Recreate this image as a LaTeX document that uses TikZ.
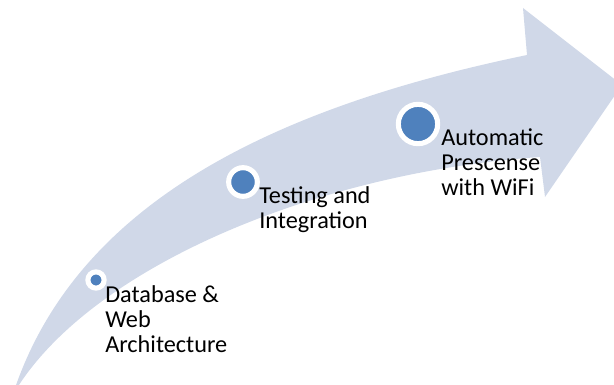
\documentclass[tikz,border=0pt]{standalone}
\usepackage{fontspec}
\setmainfont{Carlito}
\definecolor{bandfill}{HTML}{D0D8E8}
\definecolor{dotblue}{HTML}{4F81BD}
\tikzset{
  stage/.style={circle,fill=dotblue,draw=white,line width=3.8pt,inner sep=0pt},
  stagetext/.style={anchor=base west,inner sep=0pt,align=left,
    font=\fontsize{18.2pt}{18.6pt}\selectfont}
}
\begin{document}
\begin{tikzpicture}[x=0.75pt,y=-0.75pt]
        \useasboundingbox (0,0) rectangle (614,385);
        % the curved arrow
        \fill[bandfill] (15,388) .. controls (78,206) and (266,109) .. (527,55)
              -- (523,8) -- (622,85) -- (545,197) -- (540,157)
              .. controls (320,172) and (95,265) .. (17,388) -- cycle;
        % stages
        \node[stage,minimum size=12.2pt] (db) at (96,280) {};
        \node[stage,minimum size=21.5pt] (test) at (243,182) {};
        \node[stage,minimum size=29.5pt] (wifi) at (418,124) {};
        % base of a text node is its last line
        \node[stagetext] (dbtext) at (105,352) {Database \&\\Web\\Architecture};
        \node[stagetext] (testtext) at (259,228) {Testing and\\Integration};
        \node[stagetext] (wifitext) at (441,195) {Automatic\\Prescense\\with WiFi};
\end{tikzpicture}
\end{document}
